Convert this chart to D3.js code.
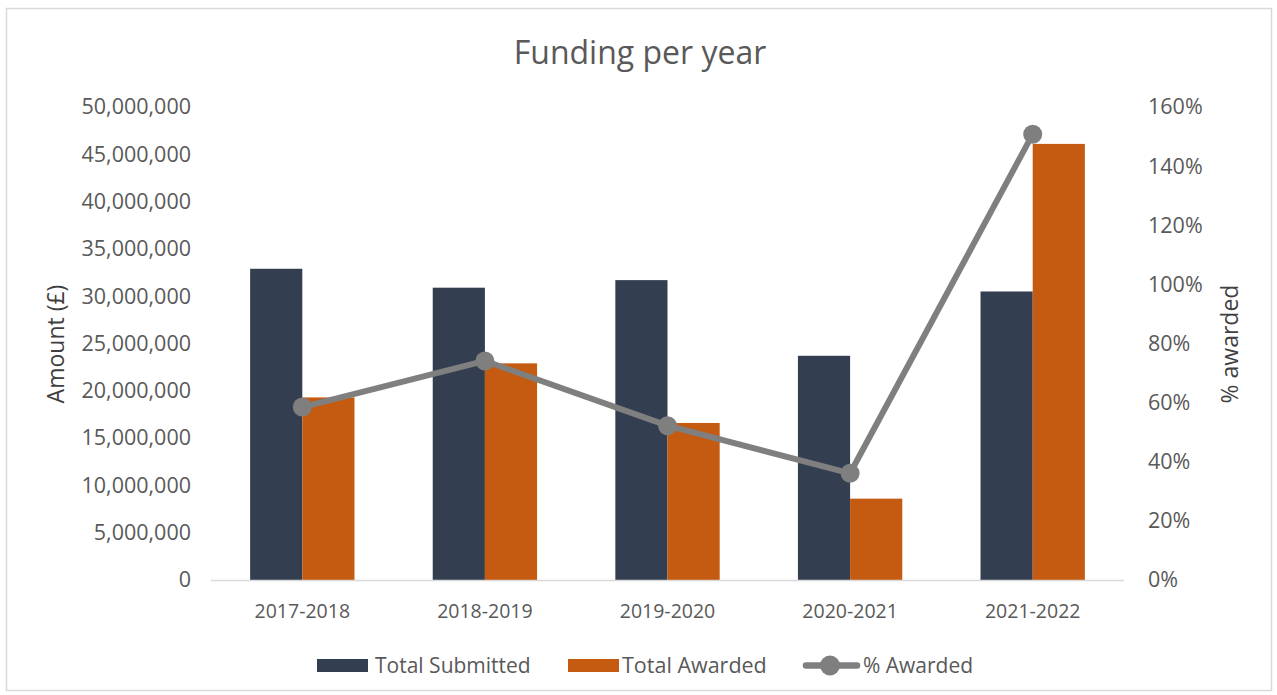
<!DOCTYPE html>
<html><head><meta charset="utf-8">
<script src="https://cdn.jsdelivr.net/npm/d3@7"></script>
<style>body{margin:0;background:#fff;} text{font-family:"Open Sans","Noto Sans",sans-serif;}</style>
</head><body>
<svg id="c" width="1277" height="695"></svg>
<script>
const categories = ["2017-2018","2018-2019","2019-2020","2020-2021","2021-2022"];
const totalSubmitted = [32900000, 30900000, 31700000, 23700000, 30500000];
const totalAwarded = [19300000, 22900000, 16600000, 8600000, 46100000];
const pctAwarded = [0.585, 0.741, 0.522, 0.361, 1.508];
const leftTicks = [0,5000000,10000000,15000000,20000000,25000000,30000000,35000000,40000000,45000000,50000000];
const rightTicks = [0,0.2,0.4,0.6,0.8,1.0,1.2,1.4,1.6];
const seriesNames = ["Total Submitted","Total Awarded","% Awarded"];

const svg = d3.select("#c");
const m = {l:211, r:1124, t:107, b:580};
const textCol = "#595959";
const FONT = "'Open Sans','Noto Sans',sans-serif";

svg.append("rect").attr("x",6.5).attr("y",8.5).attr("width",1265).attr("height",682)
  .attr("fill","#fff").attr("stroke","#d9d9d9").attr("stroke-width",1.5);

const x0 = d3.scaleBand().domain(categories).range([m.l,m.r]).paddingInner(0).paddingOuter(0);
const x1 = d3.scaleBand().domain(["s","a"]).range([0,x0.bandwidth()]).paddingInner(0).paddingOuter(0.75);
const yL = d3.scaleLinear().domain([0,50000000]).range([m.b,m.t]);
const yR = d3.scaleLinear().domain([0,1.6]).range([m.b,m.t]);

// title
svg.append("text").attr("x",640).attr("y",64).attr("text-anchor","middle")
  .attr("font-size",32).attr("fill",textCol).text("Funding per year");

// bars
const g = svg.append("g");
categories.forEach((c,i)=>{
  g.append("rect").attr("x",x0(c)+x1("s")).attr("y",yL(totalSubmitted[i]))
    .attr("width",x1.bandwidth()).attr("height",yL(0)-yL(totalSubmitted[i])).attr("fill","#333f50");
  g.append("rect").attr("x",x0(c)+x1("a")).attr("y",yL(totalAwarded[i]))
    .attr("width",x1.bandwidth()).attr("height",yL(0)-yL(totalAwarded[i])).attr("fill","#c55a11");
});

// baseline
svg.append("line").attr("x1",m.l).attr("x2",m.r).attr("y1",m.b+0.5).attr("y2",m.b+0.5)
  .attr("stroke","#d9d9d9").attr("stroke-width",1.5);

// left axis
const axL = d3.axisLeft(yL).tickValues(leftTicks).tickSize(0).tickPadding(0).tickFormat(d3.format(","));
const gL = svg.append("g").attr("transform",`translate(${m.l-20},0)`).call(axL);
gL.select(".domain").remove();
gL.selectAll("text").attr("font-size",21.5).attr("fill",textCol).attr("font-family",FONT);

// right axis
const axR = d3.axisRight(yR).tickValues(rightTicks).tickSize(0).tickPadding(0).tickFormat(d3.format(".0%"));
const gR = svg.append("g").attr("transform",`translate(1148,0)`).call(axR);
gR.select(".domain").remove();
gR.selectAll("text").attr("font-size",21.5).attr("fill",textCol).attr("font-family",FONT);

// x axis
const axX = d3.axisBottom(x0).tickSize(0).tickPadding(0);
const gX = svg.append("g").attr("transform",`translate(0,604)`).call(axX);
gX.select(".domain").remove();
gX.selectAll("text").attr("font-size",19.5).attr("fill",textCol).attr("font-family",FONT);

// axis titles
svg.append("text").attr("transform","translate(64,344) rotate(-90)").attr("text-anchor","middle")
  .attr("font-size",23).attr("fill","#404040").text("Amount (£)");
svg.append("text").attr("transform","translate(1238,344) rotate(-90)").attr("text-anchor","middle")
  .attr("font-size",23).attr("fill","#404040").text("% awarded");

// line
const cx = c => x0(c)+x0.bandwidth()/2;
const line = d3.line().x((d,i)=>cx(categories[i])).y(d=>yR(d));
svg.append("path").datum(pctAwarded).attr("d",line).attr("fill","none")
  .attr("stroke","#7f7f7f").attr("stroke-width",6).attr("stroke-linejoin","round");
svg.selectAll("circle.pt").data(pctAwarded).join("circle").attr("class","pt")
  .attr("cx",(d,i)=>cx(categories[i])).attr("cy",d=>yR(d)).attr("r",9.5).attr("fill","#7f7f7f");

// legend
const lg = svg.append("g");
lg.append("rect").attr("x",317).attr("y",659).attr("width",51).attr("height",13).attr("fill","#333f50");
lg.append("text").attr("x",375).attr("y",673).attr("font-size",21).attr("fill",textCol).text(seriesNames[0]);
lg.append("rect").attr("x",568).attr("y",659).attr("width",51).attr("height",13).attr("fill","#c55a11");
lg.append("text").attr("x",622).attr("y",673).attr("font-size",21.5).attr("fill",textCol).text(seriesNames[1]);
lg.append("line").attr("x1",806).attr("x2",857).attr("y1",665.5).attr("y2",665.5).attr("stroke","#7f7f7f").attr("stroke-width",6.5).attr("stroke-linecap","round");
lg.append("circle").attr("cx",830).attr("cy",665.5).attr("r",10).attr("fill","#7f7f7f");
lg.append("text").attr("x",863).attr("y",673).attr("font-size",21).attr("fill",textCol).text(seriesNames[2]);
</script>
</body></html>
